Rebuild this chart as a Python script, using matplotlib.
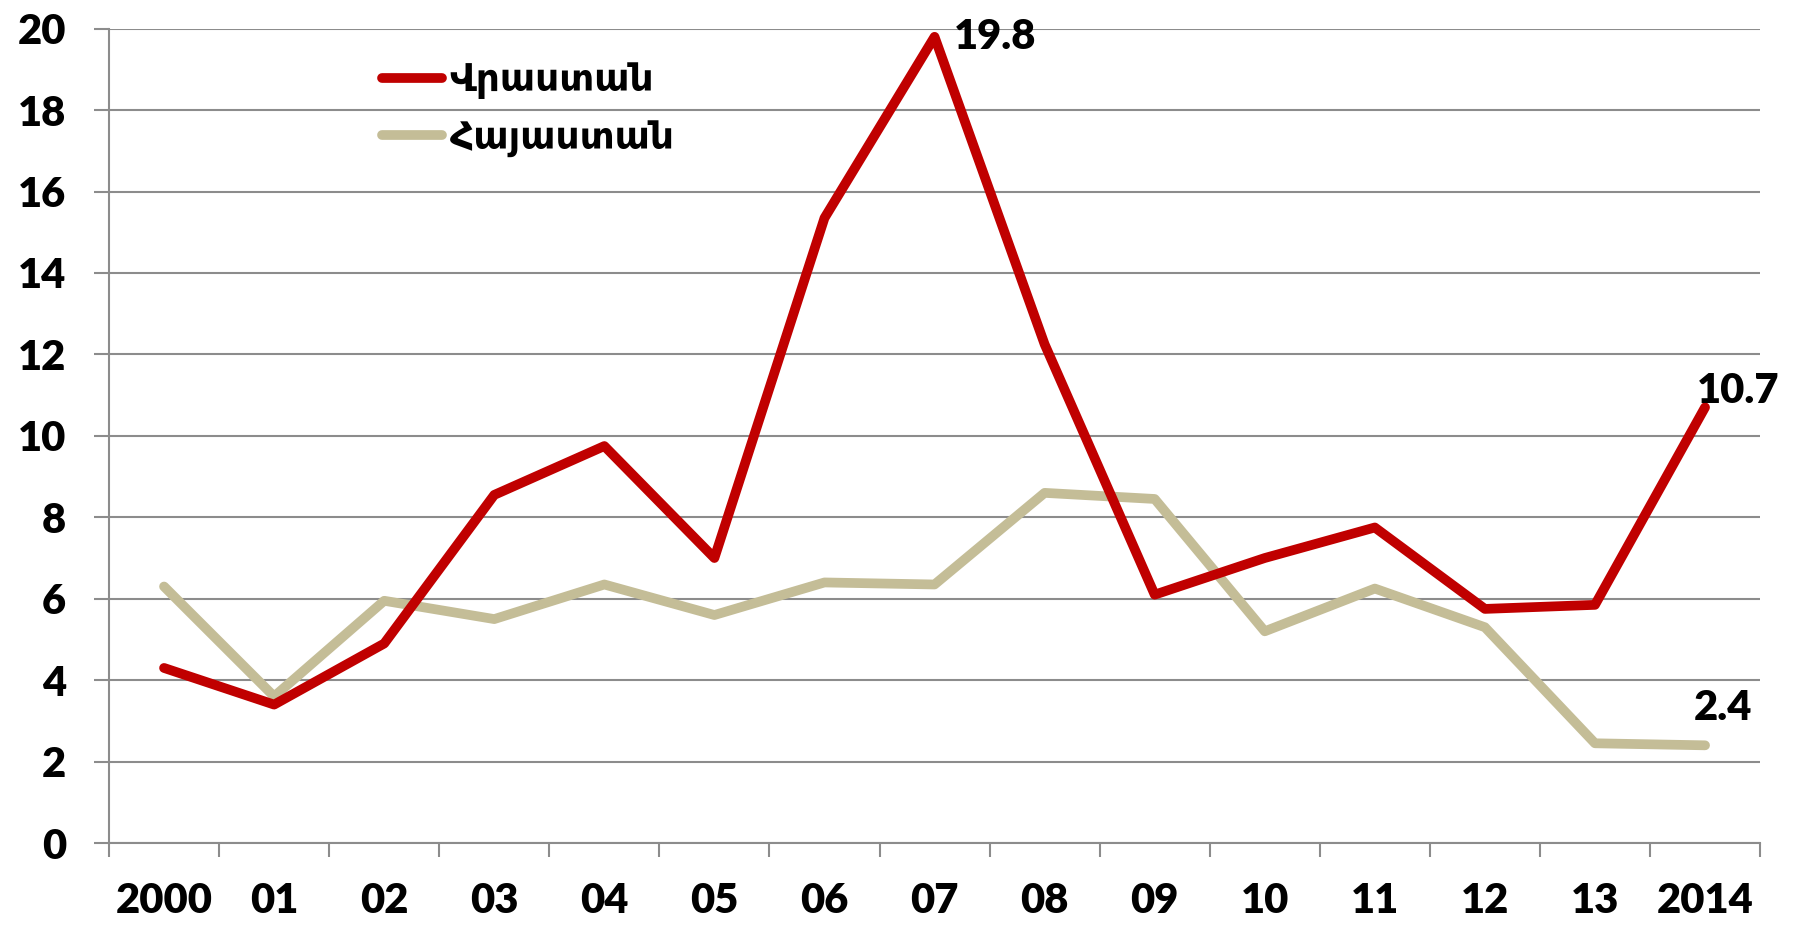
import numpy as np
import matplotlib
matplotlib.use("Agg")
import matplotlib.pyplot as plt

years = ["2000", "01", "02", "03", "04", "05", "06", "07", "08", "09", "10", "11", "12", "13", "2014"]
georgia = [4.3, 3.4, 4.9, 8.55, 9.75, 7.0, 15.35, 19.8, 12.25, 6.1, 7.0, 7.75, 5.75, 5.85, 10.7]
armenia = [6.3, 3.6, 5.95, 5.5, 6.35, 5.6, 6.4, 6.35, 8.6, 8.45, 5.2, 6.25, 5.3, 2.45, 2.4]
names = ["Վրաստան", "Հայաստան"]

plt.rcParams['font.family'] = ['Lato', 'DejaVu Sans']
plt.rcParams['font.weight'] = 'heavy'

grey = "#8c8c8c"
fig = plt.figure(figsize=(17.96, 9.25), dpi=100)
ax = fig.add_axes([0.0607, 0.0886, 0.9193, 0.8804])

x = np.arange(len(years))
ax.plot(x, georgia, color="#C00000", lw=7, solid_capstyle='round', label=names[0], zorder=3)
ax.plot(x, armenia, color="#C4BD97", lw=7, solid_capstyle='round', label=names[1], zorder=2)

ax.set_xlim(-0.5, len(years) - 0.5)
ax.set_ylim(0, 20)
ax.set_yticks(np.arange(0, 21, 2))
ax.yaxis.grid(True, color=grey, lw=1.5)
ax.set_axisbelow(True)

ax.set_xticks(np.arange(-0.5, len(years), 1))
ax.set_xticklabels([])
ax.set_xticks(x, minor=True)
ax.set_xticklabels(years, minor=True)
ax.tick_params(axis='x', which='major', length=10, width=1.5, color=grey, direction='out')
ax.tick_params(axis='x', which='minor', length=0, pad=28, labelsize=30)
ax.tick_params(axis='y', length=11, width=1.5, color=grey, pad=20, labelsize=30)

for s in ['top', 'right']:
    ax.spines[s].set_visible(False)
for s in ['left', 'bottom']:
    ax.spines[s].set_color(grey)
    ax.spines[s].set_linewidth(1.5)

ax.annotate("19.8", (7, georgia[7]), xytext=(14, 0), textcoords='offset points',
            ha='left', va='center', fontsize=30)
ax.annotate("10.7", (14, georgia[14]), xytext=(-6, 12), textcoords='offset points',
            ha='left', va='center', fontsize=30, annotation_clip=False)
ax.annotate("2.4", (14, armenia[14]), xytext=(-8, 27), textcoords='offset points',
            ha='left', va='center', fontsize=30, annotation_clip=False)

leg = ax.legend(loc='upper left', bbox_to_anchor=(0.145, 1.0), frameon=False,
                fontsize=27, handlelength=1.6, handletextpad=0.2, labelspacing=0.55)

fig.savefig("out.png", dpi=100)
